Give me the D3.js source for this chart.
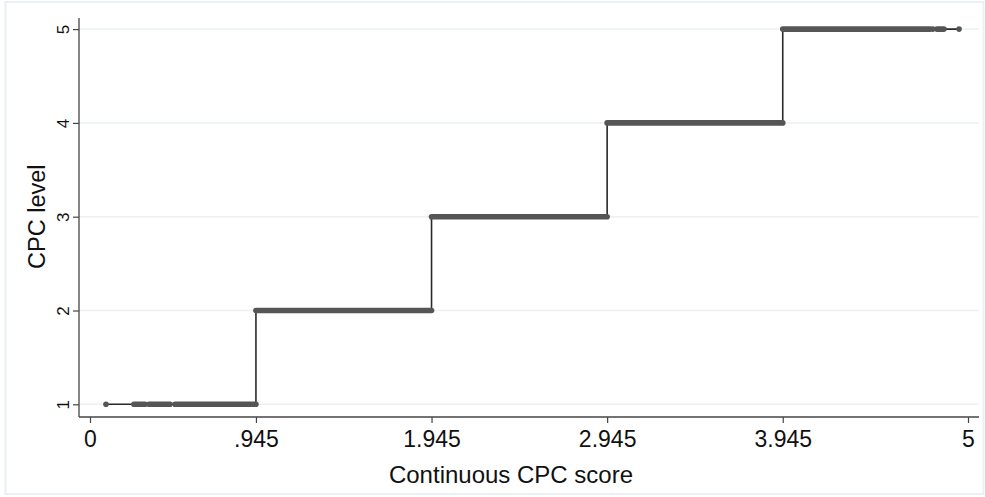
<!DOCTYPE html>
<html>
<head>
<meta charset="utf-8">
<script src="https://cdn.jsdelivr.net/npm/d3@7"></script>
<style>
  html, body { margin: 0; padding: 0; background: #fff; }
  svg { display: block; font-family: "Liberation Sans", Arial, sans-serif; }
</style>
</head>
<body>
<svg id="chart" width="985" height="497"></svg>
<script>
// Axis ticks
const xTicks = [0, 0.945, 1.945, 2.945, 3.945, 5];
const xTickLabels = ["0", ".945", "1.945", "2.945", "3.945", "5"];
const yTicks = [1, 2, 3, 4, 5];

// Cut points between CPC levels on the continuous score
const cutPoints = [0.945, 1.945, 2.945, 3.945];

// Stretches of the score where observations are packed edge to edge
const runLevel = [1, 1, 1, 2, 3, 4, 5, 5];
const runStart = [0.250, 0.336, 0.484, 0.945, 1.945, 2.945, 3.945, 4.823];
const runEnd   = [0.313, 0.456, 0.945, 1.945, 2.945, 3.945, 4.784, 4.863];

// Isolated observations
const soloLevel = [1, 5, 5];
const soloScore = [0.091, 4.800, 4.949];

const svg = d3.select("#chart");

// outer frame of the graph region
svg.append("rect")
  .attr("x", 5.5).attr("y", 2).attr("width", 978).attr("height", 492)
  .attr("fill", "#fff").attr("stroke", "#eaf0f3").attr("stroke-width", 2);

const x = d3.scaleLinear().domain([0, 5]).range([90, 968]);
const y = d3.scaleLinear().domain([1, 5]).range([404.3, 29.1]);

const plotLeft = 79, plotRight = 979, plotTop = 18, plotBottom = 417;

// horizontal grid lines
svg.append("g").selectAll("line").data(yTicks).join("line")
  .attr("x1", plotLeft).attr("x2", plotRight)
  .attr("y1", d => y(d)).attr("y2", d => y(d))
  .attr("stroke", "#eaf0f3").attr("stroke-width", 1.5);

// y axis
const yAxis = svg.append("g").attr("transform", `translate(${plotLeft},0)`)
  .call(d3.axisLeft(y).tickValues(yTicks).tickSize(6).tickPadding(10).tickFormat(d3.format("d")));
yAxis.select(".domain").remove();
yAxis.selectAll(".tick line").attr("stroke", "#444").attr("stroke-width", 1.2);
yAxis.selectAll(".tick text")
  .attr("fill", "#111").attr("font-size", 17)
  .attr("transform", "rotate(-90, -16, 0)")
  .attr("x", -16)
  .attr("text-anchor", "middle")
  .attr("dy", "0.36em");
svg.append("line")
  .attr("x1", plotLeft).attr("x2", plotLeft).attr("y1", plotTop).attr("y2", plotBottom)
  .attr("stroke", "#444").attr("stroke-width", 1.3);

// x axis
const xAxis = svg.append("g").attr("transform", `translate(0,${plotBottom})`)
  .call(d3.axisBottom(x).tickValues(xTicks).tickSize(6).tickPadding(8)
    .tickFormat((d, i) => xTickLabels[i]));
xAxis.select(".domain").remove();
xAxis.selectAll(".tick line").attr("stroke", "#444").attr("stroke-width", 1.2);
xAxis.selectAll(".tick text").attr("fill", "#111").attr("font-size", 23);
svg.append("line")
  .attr("x1", plotLeft).attr("x2", plotRight).attr("y1", plotBottom).attr("y2", plotBottom)
  .attr("stroke", "#444").attr("stroke-width", 1.3);

// axis titles
svg.append("text")
  .attr("x", 511).attr("y", 483)
  .attr("text-anchor", "middle").attr("font-size", 24).attr("fill", "#111")
  .text("Continuous CPC score");
svg.append("text")
  .attr("transform", `translate(45,${(y(1) + y(5)) / 2}) rotate(-90)`)
  .attr("text-anchor", "middle").attr("font-size", 23.5).attr("fill", "#111")
  .text("CPC level");

// connecting line through the sorted observations (jumps at the cut points)
const pts = [];
soloScore.forEach((s, i) => pts.push([s, soloLevel[i]]));
runStart.forEach((s, i) => { pts.push([s, runLevel[i]]); pts.push([runEnd[i], runLevel[i]]); });
pts.sort((a, b) => a[0] - b[0] || a[1] - b[1]);
svg.append("path")
  .attr("d", d3.line().x(d => x(d[0])).y(d => y(d[1]))(pts))
  .attr("fill", "none").attr("stroke", "#2a2a2a").attr("stroke-width", 1.6);

// packed observations
const marker = "#555555";
svg.append("g").selectAll("line").data(runStart.map((s, i) => i)).join("line")
  .attr("x1", i => x(runStart[i])).attr("x2", i => x(runEnd[i]))
  .attr("y1", i => y(runLevel[i])).attr("y2", i => y(runLevel[i]))
  .attr("stroke", marker).attr("stroke-width", 5.6).attr("stroke-linecap", "round");

// isolated observations
svg.append("g").selectAll("circle").data(soloScore.map((s, i) => i)).join("circle")
  .attr("cx", i => x(soloScore[i])).attr("cy", i => y(soloLevel[i]))
  .attr("r", 2.8).attr("fill", marker);
</script>
</body>
</html>
